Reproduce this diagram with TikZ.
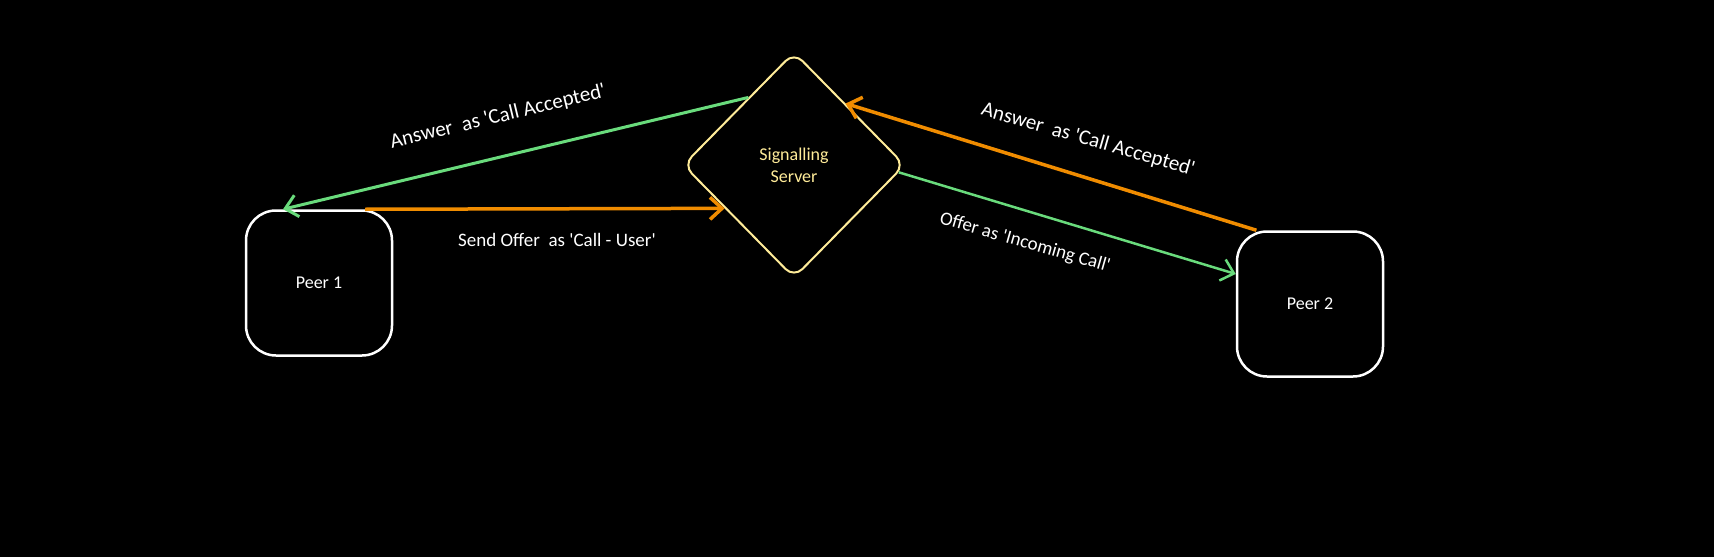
\documentclass[tikz,border=0pt]{standalone}
\usepackage{fontspec}
\setmainfont{Carlito}
\usetikzlibrary{shapes.geometric,arrows.meta}
\definecolor{sigyellow}{HTML}{FFEC99}
\definecolor{ansgreen}{HTML}{69DB7C}
\definecolor{offorange}{HTML}{F08C00}
\newcommand{\q}{\textquotesingle}
\begin{document}
\begin{tikzpicture}[x=1pt, y=-1pt,
    peer/.style={draw=white, line width=2.5pt, rounded corners=30pt, minimum width=146pt, minimum height=145pt, text=white, font=\fontsize{18}{22}\selectfont},
    server/.style={diamond, draw=sigyellow, line width=2pt, rounded corners=12pt, minimum width=222pt, minimum height=226pt, inner sep=0pt, text=sigyellow, align=center, font=\fontsize{18}{22}\selectfont},
    msg/.style={text=white, font=\fontsize{19}{22}\selectfont},
    barb/.style={-{Straight Barb[length=12pt,width=22pt]}}]
    % background and page size
    \fill[black] (0,0) rectangle (1714,557);
    \useasboundingbox (0,0) rectangle (1714,557);
    % peers and the server
    \node[peer] (p1) at (319,283) {Peer 1};
    \node[peer] (p2) at (1310,304) {Peer 2};
    \node[server] (srv) at (794,165) {Signalling\\Server};
    % messages
    \draw[offorange, line width=3.5pt, barb] (p1.58) -- (srv.212);
    \draw[ansgreen, line width=3pt, barb] (srv.124) -- (p1.116);
    \draw[ansgreen, line width=2.5pt, barb] (srv.-4) -- (p2.158);
    \draw[offorange, line width=3.5pt, barb] (p2.126) -- (srv.50);
    % labels
    \node[msg] (l1) at (557,240) {Send Offer~~as \q Call - User\q};
    \node[msg, rotate=13.5, font=\fontsize{21}{24}\selectfont] (l2) at (498,117) {Answer~~as \q Call Accepted\q};
    \node[msg, rotate=-16, font=\fontsize{21}{24}\selectfont] (l3) at (1088,140) {Answer~~as \q Call Accepted\q};
    \node[msg, rotate=-16] (l4) at (1025,243) {Offer as \q Incoming Call\q};
\end{tikzpicture}
\end{document}
